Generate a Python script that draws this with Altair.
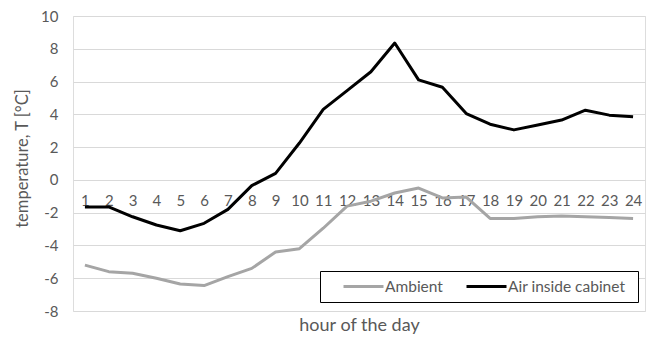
import altair as alt
import pandas as pd

# Hourly temperatures over one day
hours = list(range(1, 25))
ambient = [-5.2, -5.6, -5.7, -6.0, -6.35, -6.45, -5.9, -5.4, -4.4, -4.2, -2.95, -1.6,
           -1.3, -0.8, -0.5, -1.1, -1.05, -2.35, -2.35, -2.25, -2.2, -2.25, -2.3, -2.35]
cabinet = [-1.65, -1.65, -2.25, -2.75, -3.1, -2.65, -1.8, -0.35, 0.4, 2.25, 4.3, 5.45,
           6.6, 8.35, 6.1, 5.65, 4.05, 3.4, 3.05, 3.35, 3.65, 4.25, 3.95, 3.85]
series_names = ["Ambient", "Air inside cabinet"]
series_colors = ["#a5a5a5", "#000000"]
y_ticks = list(range(-8, 11, 2))

rows = []
for name, values in zip(series_names, [ambient, cabinet]):
    for h, v in zip(hours, values):
        rows.append({"hour": h, "temp": v, "series": name})
df = pd.DataFrame(rows)

FONT = "Lato"
TEXT = "#595959"

chart = alt.Chart(df).mark_line(strokeWidth=3, strokeJoin="round").encode(
    x=alt.X(
        "hour:O",
        scale=alt.Scale(type="point", padding=0.5),
        axis=alt.Axis(
            title="hour of the day",
            offset=-131,
            labelAngle=0,
            domain=False,
            ticks=False,
            labelPadding=13,
            labelFontSize=15,
            labelColor=TEXT,
            titleFontSize=18,
            titleFontWeight="normal",
            titleColor=TEXT,
            titleX=286,
            titleY=145,
            titleBaseline="middle",
        ),
    ),
    y=alt.Y(
        "temp:Q",
        scale=alt.Scale(domain=[-8, 10], nice=False),
        axis=alt.Axis(
            values=y_ticks,
            labelExpr="'' + datum.value",
            title="temperature, T [°C]",
            domain=False,
            ticks=False,
            labelPadding=15,
            labelFontSize=15,
            labelColor=TEXT,
            gridColor="#d9d9d9",
            gridWidth=1,
            titleFontSize=16.5,
            titleFontWeight="normal",
            titleColor=TEXT,
            titleX=-51,
            titleY=142,
            titleAngle=-90,
            titleAlign="center",
            titleBaseline="middle",
        ),
    ),
    color=alt.Color(
        "series:N",
        sort=series_names,
        scale=alt.Scale(domain=series_names, range=series_colors),
        legend=alt.Legend(
            title=" ",
            titleOrient="right",
            titlePadding=6,
            orient="none",
            legendX=247,
            legendY=255,
            direction="horizontal",
            strokeColor="#000000",
            fillColor="#ffffff",
            padding=7,
            clipHeight=17,
            symbolType="stroke",
            symbolStrokeWidth=3,
            symbolSize=1600,
            symbolOffset=15,
            labelFontSize=15.5,
            labelColor=TEXT,
            labelOffset=0,
            columnPadding=7,
        ),
    ),
).properties(
    width=572,
    height=295,
    padding={"left": 73, "top": 16, "right": 6, "bottom": 29},
    autosize=alt.AutoSizeParams(type="none"),
    background="#ffffff",
).configure_view(stroke=None).configure(font=FONT)

chart.save("out.html", embed_options={"renderer": "svg", "actions": False})
